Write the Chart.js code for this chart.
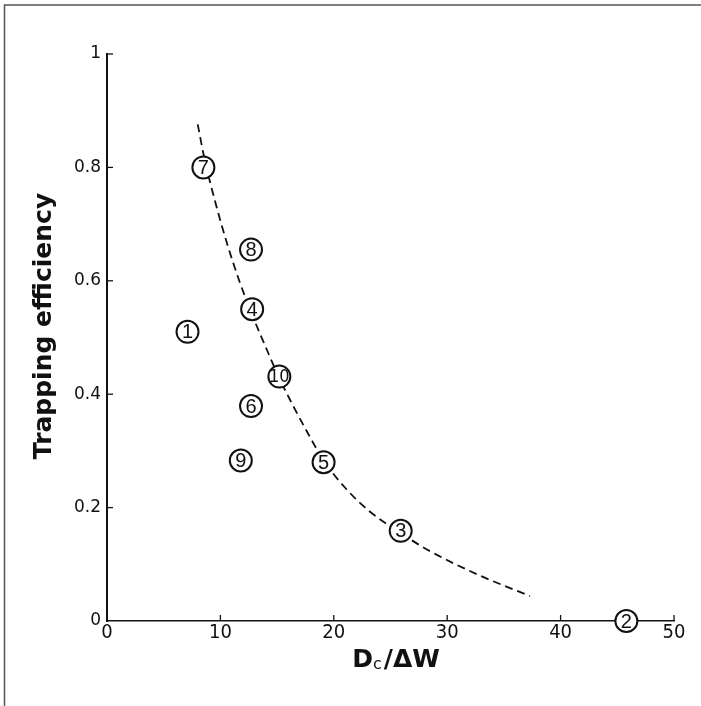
<!DOCTYPE html>
<html>
<head>
<meta charset="utf-8">
<script src="https://cdn.jsdelivr.net/npm/chart.js@4"></script>
<style>
  html, body { margin:0; padding:0; background:#fff; overflow:hidden; }
  canvas { display:block; }
</style>
</head>
<body>
<canvas id="c" width="701" height="706"></canvas>
<script>
// samples
const sampleNo = ['1','2','3','4','5','6','7','8','9','10'];
const dcOverDw = [7.1, 45.8, 25.9, 12.8, 19.1, 12.7, 8.5, 12.7, 11.8, 15.2];
const trapEff  = [0.51, 0.0, 0.159, 0.55, 0.28, 0.379, 0.80, 0.655, 0.283, 0.431];

// dashed trend curve
const curveX = [8.0, 8.6, 9.6, 10.6, 11.7, 12.8, 14.0, 15.2, 16.4, 17.8, 19.1, 21.0, 23.0, 25.9, 28.5, 32.9, 37.3];
const curveY = [0.876, 0.815, 0.735, 0.665, 0.598, 0.54, 0.483, 0.428, 0.38, 0.328, 0.283, 0.235, 0.196, 0.155, 0.123, 0.08, 0.044];

const xTicks = [0, 10, 20, 30, 40, 50];
const yTicks = [0, 0.2, 0.4, 0.6, 0.8, 1];

const ink = '#111';
const narrow = "'Liberation Sans Narrow', 'DejaVu Sans Condensed', sans-serif";

const pts = dcOverDw.map((x, i) => ({x, y: trapEff[i]}));
const curve = curveX.map((x, i) => ({x, y: curveY[i]}));

// frame, inward ticks, circled numbers, axis titles
const extras = {
  id: 'extras',
  beforeDraw(chart){
    const ctx = chart.ctx;
    ctx.save();
    ctx.strokeStyle = '#555';
    ctx.lineWidth = 1.5;
    ctx.beginPath();
    ctx.moveTo(4.5, 706); ctx.lineTo(4.5, 5); ctx.lineTo(701, 5);
    ctx.stroke();
    ctx.restore();
  },
  afterDatasetsDraw(chart){
    const ctx = chart.ctx, xs = chart.scales.x, ys = chart.scales.y;
    ctx.save();
    // ticks point into the plot
    ctx.strokeStyle = ink; ctx.lineWidth = 1.3;
    xTicks.forEach(v => {
      if (v === 0) return;
      const px = xs.getPixelForValue(v);
      ctx.beginPath(); ctx.moveTo(px, ys.bottom); ctx.lineTo(px, ys.bottom - 6); ctx.stroke();
    });
    yTicks.forEach(v => {
      if (v === 0) return;
      const py = ys.getPixelForValue(v);
      ctx.beginPath(); ctx.moveTo(xs.left, py); ctx.lineTo(xs.left + 6, py); ctx.stroke();
    });
    // numbers inside the circles
    const meta = chart.getDatasetMeta(0);
    ctx.fillStyle = ink;
    ctx.textAlign = 'center'; ctx.textBaseline = 'middle';
    meta.data.forEach((el, i) => {
      const t = sampleNo[i];
      ctx.font = t.length > 1 ? "18px " + narrow : "20px 'Liberation Sans', sans-serif";
      ctx.fillText(t, el.x, el.y + 1);
    });
    // y axis title
    ctx.font = "bold 25px 'DejaVu Sans', sans-serif";
    ctx.translate(44, 326);
    ctx.rotate(-Math.PI / 2);
    ctx.fillText('Trapping efficiency', 0, 0);
    ctx.setTransform(1, 0, 0, 1, 0, 0);
    // x axis title with subscript
    const big = "bold 25px 'DejaVu Sans', sans-serif";
    const sub = "16px 'DejaVu Sans', sans-serif";
    ctx.textAlign = 'left'; ctx.textBaseline = 'alphabetic';
    ctx.font = big; const wD = ctx.measureText('D').width, wR = ctx.measureText('/ΔW').width;
    ctx.font = sub; const wc = ctx.measureText('c').width;
    const total = wD + wc + 2 + wR;
    let x0 = 396 - total / 2;
    const base = 667;
    ctx.font = big; ctx.fillText('D', x0, base); x0 += wD;
    ctx.font = sub; ctx.fillText('c', x0, base + 2); x0 += wc + 2;
    ctx.font = big; ctx.fillText('/ΔW', x0, base);
    ctx.restore();
  }
};

new Chart(document.getElementById('c'), {
  type: 'scatter',
  data: {
    datasets: [
      {label:'samples', data: pts, pointRadius: 11, pointHoverRadius: 11, pointStyle: 'circle',
       pointBackgroundColor: '#fff', pointBorderColor: ink, pointBorderWidth: 2, showLine: false, clip: false},
      {label:'trend', data: curve, showLine: true, pointRadius: 0, borderColor: ink, borderWidth: 1.8,
       borderDash: [8, 5], cubicInterpolationMode: 'monotone', fill: false, clip: false}
    ]
  },
  options: {
    responsive: false,
    animation: false,
    layout: {padding: {left: 0, top: 54, right: 27, bottom: 0}},
    plugins: {legend: {display: false}, tooltip: {enabled: false}},
    scales: {
      x: {
        min: 0, max: 50,
        afterFit: s => { s.height = 85; },
        afterBuildTicks: s => { s.ticks = xTicks.map(v => ({value: v})); },
        border: {display: true, color: ink, width: 1.5},
        grid: {display: false},
        ticks: {color: ink, padding: -8, maxRotation: 0, font: {family: narrow, size: 20}}
      },
      y: {
        min: 0, max: 1,
        afterFit: s => { s.width = 107; },
        afterBuildTicks: s => { s.ticks = yTicks.map(v => ({value: v})); },
        border: {display: true, color: ink, width: 2},
        grid: {display: false},
        ticks: {color: ink, padding: -2, font: {family: "'DejaVu Sans', sans-serif", size: 17},
                callback: v => String(v)}
      }
    }
  },
  plugins: [extras]
});
</script>
</body>
</html>
